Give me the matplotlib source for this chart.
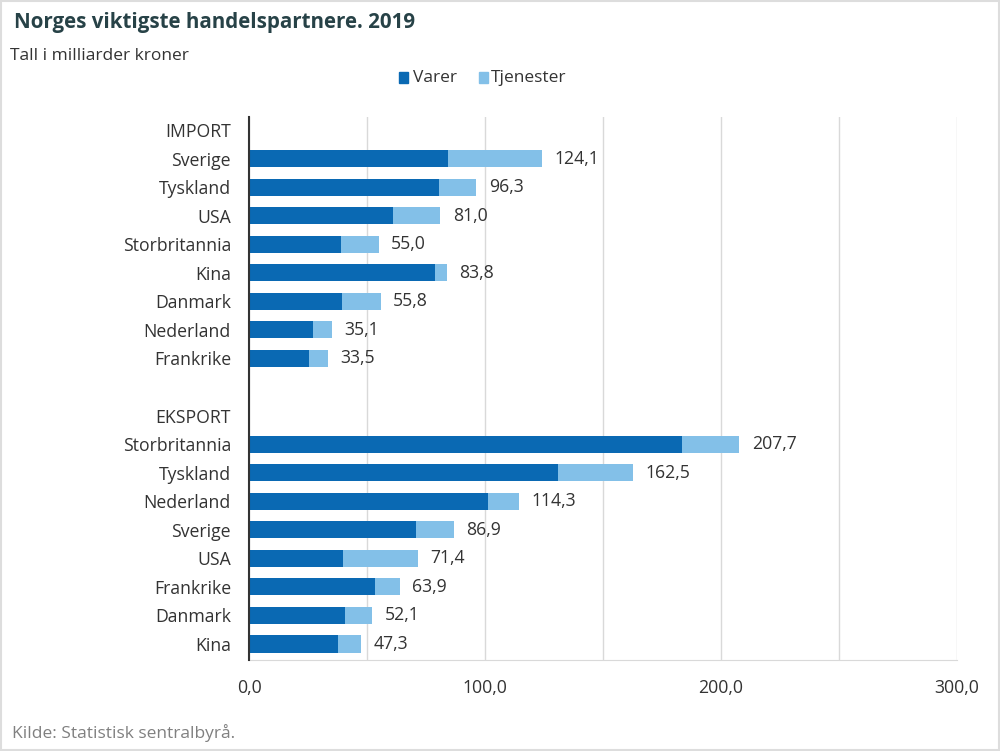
import matplotlib.pyplot as plt
from matplotlib.patches import Rectangle

plt.rcParams['font.family'] = ['Open Sans', 'DejaVu Sans']

# slots: header, 8 countries, blank, header, 8 countries
labels = ['IMPORT', 'Sverige', 'Tyskland', 'USA', 'Storbritannia', 'Kina', 'Danmark',
          'Nederland', 'Frankrike', '', 'EKSPORT', 'Storbritannia', 'Tyskland',
          'Nederland', 'Sverige', 'USA', 'Frankrike', 'Danmark', 'Kina']
varer = [None, 84.5, 80.5, 61.2, 39.0, 78.8, 39.5, 27.3, 25.6, None,
         None, 183.6, 131.1, 101.4, 70.6, 39.8, 53.4, 40.8, 37.8]
total = [None, 124.1, 96.3, 81.0, 55.0, 83.8, 55.8, 35.1, 33.5, None,
         None, 207.7, 162.5, 114.3, 86.9, 71.4, 63.9, 52.1, 47.3]

dark = '#0a69b3'
light = '#83c0e8'
txt = '#333333'
fs = 12.7

fig = plt.figure(figsize=(10, 7.51), dpi=100)
ax = fig.add_axes([0.249, 0.1212, 0.708, 0.723])

for i, (v, t) in enumerate(zip(varer, total)):
    if v is None:
        continue
    ax.barh(i, v, height=0.6, color=dark, zorder=3)
    ax.barh(i, t - v, left=v, height=0.6, color=light, zorder=3)
    ax.text(t + 5.3, i, f'{t:.1f}'.replace('.', ','), va='center', ha='left',
            fontsize=fs, color=txt)

ax.set_xlim(0, 300)
ax.set_ylim(18.56, -0.455)
ax.set_yticks(range(len(labels)))
ax.set_yticklabels(labels, fontsize=fs, color=txt)
ax.set_xticks([0, 100, 200, 300])
ax.set_xticklabels(['0,0', '100,0', '200,0', '300,0'], fontsize=fs, color=txt)
ax.set_xticks(range(0, 301, 50), minor=True)
ax.grid(axis='x', which='both', color='#d9d9d9', lw=1, zorder=0)
ax.tick_params(length=0, which='both')
ax.tick_params(axis='x', pad=14)
ax.tick_params(axis='y', pad=13)
for s in ['top', 'right']:
    ax.spines[s].set_visible(False)
ax.spines['bottom'].set_color('#d9d9d9')
ax.spines['left'].set_color('#333333')
ax.spines['left'].set_linewidth(1.5)
ax.spines['left'].set_zorder(4)

fig.text(0.014, 0.970, 'Norges viktigste handelspartnere. 2019', fontsize=14.8,
         fontweight='bold', color='#274247', va='center')
fig.text(0.010, 0.925, 'Tall i milliarder kroner', fontsize=12.5, color=txt, va='center')

# legend
fig.patches.append(Rectangle((0.399, 0.889), 0.0085, 0.0145, color=dark,
                             transform=fig.transFigure, figure=fig))
fig.text(0.413, 0.896, 'Varer', fontsize=12.5, color=txt, va='center')
fig.patches.append(Rectangle((0.479, 0.889), 0.0085, 0.0145, color=light,
                             transform=fig.transFigure, figure=fig))
fig.text(0.491, 0.896, 'Tjenester', fontsize=12.5, color=txt, va='center')

fig.text(0.012, 0.024, 'Kilde: Statistisk sentralbyrå.', fontsize=12.5, color='#808080',
         va='center')

fig.patches.append(Rectangle((0.001, 0.001), 0.998, 0.998, fill=False,
                             edgecolor='#dddddd', lw=1.5, transform=fig.transFigure,
                             figure=fig))

fig.savefig('out.png', dpi=100)
